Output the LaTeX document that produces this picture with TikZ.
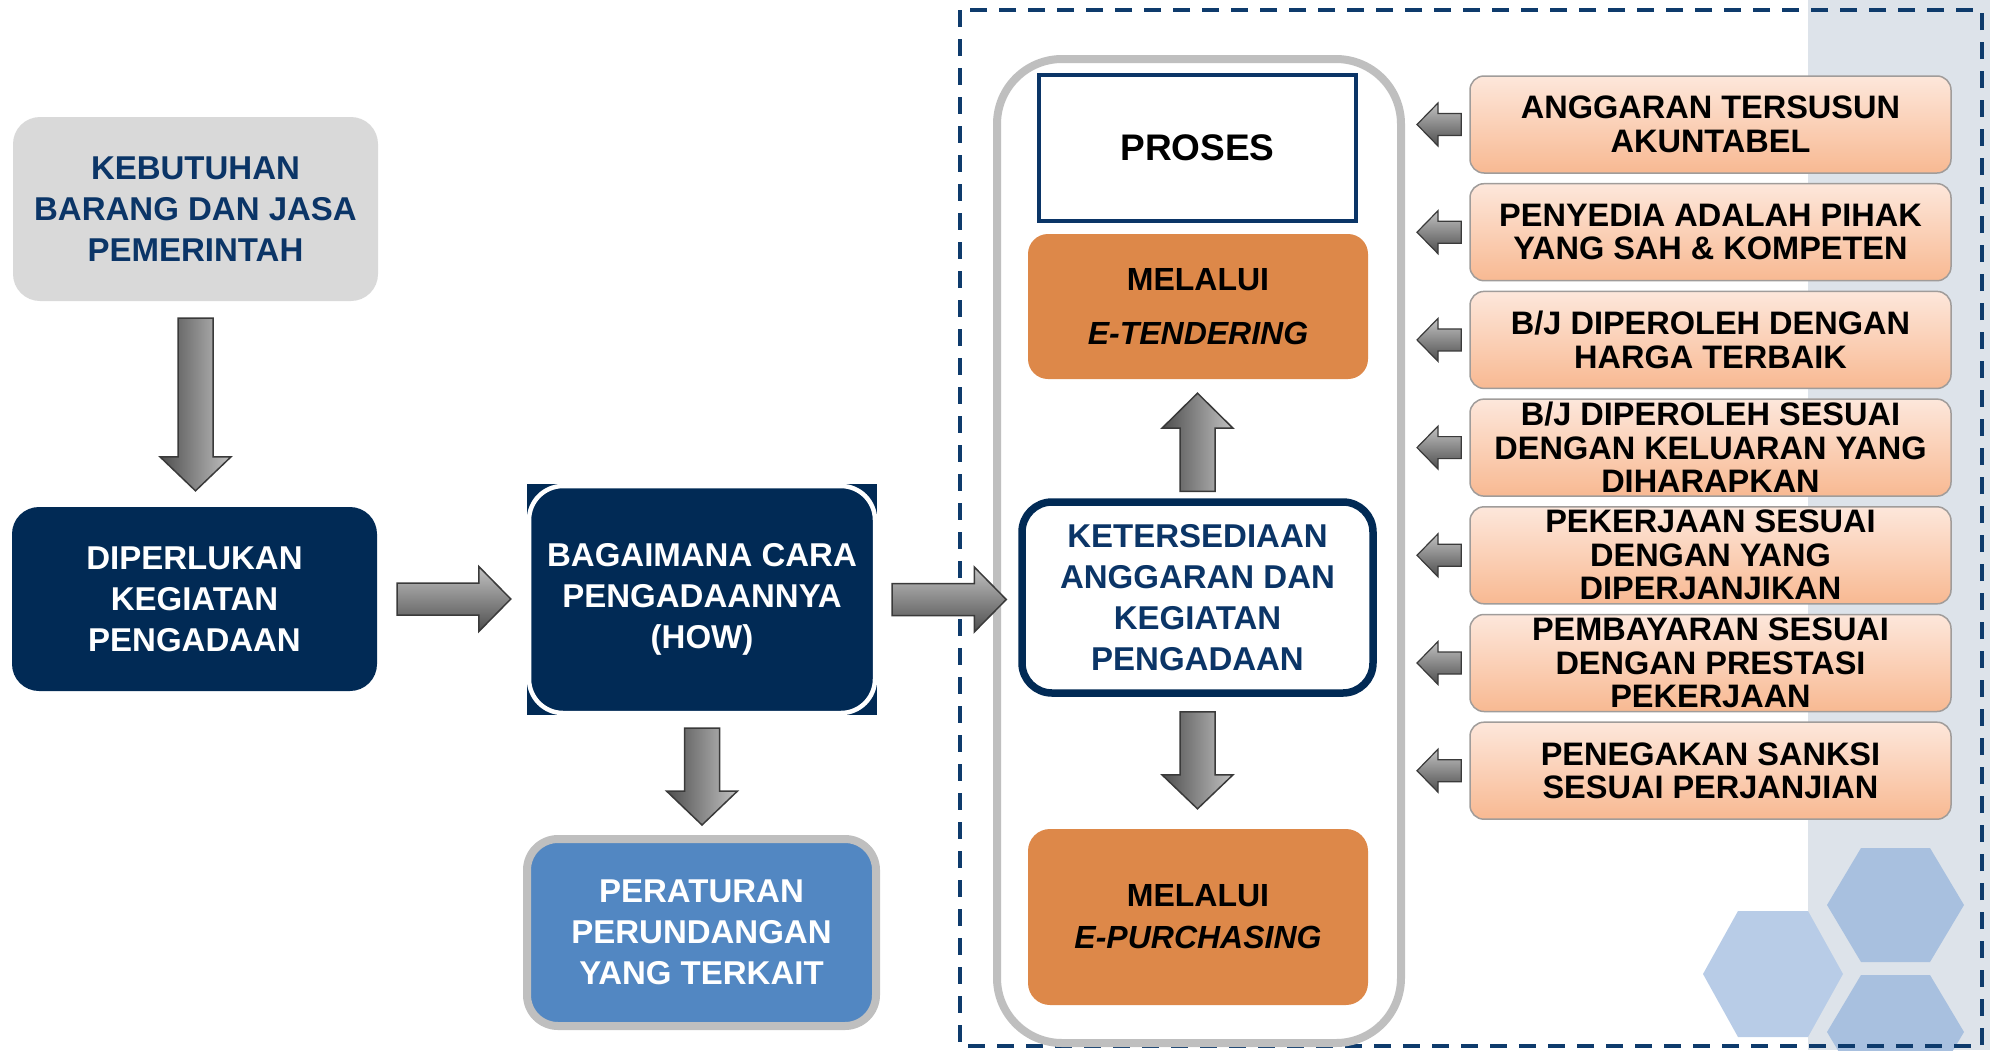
\documentclass[tikz,border=0pt]{standalone}
\usepackage{fontspec}
\setmainfont{Liberation Sans}
\usetikzlibrary{calc}
\definecolor{navytxt}{HTML}{0B3567}
\definecolor{navyfill}{HTML}{012A55}
\definecolor{kebfill}{HTML}{D9D9D9}
\definecolor{perfill}{HTML}{5287C2}
\definecolor{lgray}{HTML}{BFBFBF}
\definecolor{orangef}{HTML}{DD8849}
\definecolor{pinktop}{HTML}{FDE7DB}
\definecolor{pinkbot}{HTML}{F8B992}
\definecolor{pinkedge}{HTML}{A09C9A}
\definecolor{frameblue}{HTML}{0E3B6C}
\definecolor{arrdark}{HTML}{4E4E4E}
\definecolor{arrlight}{HTML}{C2C2C2}
\definecolor{arredge}{HTML}{3A3A3A}
\definecolor{colbg}{HTML}{DDE3EA}
\definecolor{hexa}{HTML}{A8C0DF}
\definecolor{hexb}{HTML}{B8CCE7}

\newcommand\arrD[4]{\path[barrow,vshade] let \p1=(#1), \p2=(#2) in
  (\x1-17.5pt,\y1-#3pt) -- (\x1+17.5pt,\y1-#3pt) -- (\x1+17.5pt,\y2+#4pt+34pt) -- (\x1+35.5pt,\y2+#4pt+34pt)
  -- (\x1,\y2+#4pt) -- (\x1-35.5pt,\y2+#4pt+34pt) -- (\x1-17.5pt,\y2+#4pt+34pt) -- cycle;}
\newcommand\arrU[4]{\path[barrow,vshade] let \p1=(#1), \p2=(#2) in
  (\x1-17.5pt,\y1+#3pt) -- (\x1+17.5pt,\y1+#3pt) -- (\x1+17.5pt,\y2-#4pt-35pt) -- (\x1+35.5pt,\y2-#4pt-35pt)
  -- (\x1,\y2-#4pt) -- (\x1-35.5pt,\y2-#4pt-35pt) -- (\x1-17.5pt,\y2-#4pt-35pt) -- cycle;}
\newcommand\arrR[4]{\path[barrow,hshade] let \p1=(#1), \p2=(#2) in
  (\x1+#3pt,\y1+16pt) -- (\x2-#4pt-32pt,\y1+16pt) -- (\x2-#4pt-32pt,\y1+32.5pt) -- (\x2-#4pt,\y1)
  -- (\x2-#4pt-32pt,\y1-32.5pt) -- (\x2-#4pt-32pt,\y1-16pt) -- (\x1+#3pt,\y1-16pt) -- cycle;}
\newcommand\arrL[2]{\path[barrow,hshade,line width=1.2pt] let \p1=(#1), \p2=(#2) in
  (\x1-8pt,\y1+11pt) -- (\x2+33pt,\y1+11pt) -- (\x2+33pt,\y1+21.5pt) -- (\x2+12pt,\y1)
  -- (\x2+33pt,\y1-21.5pt) -- (\x2+33pt,\y1-11pt) -- (\x1-8pt,\y1-11pt) -- cycle;}

\begin{document}
\begin{tikzpicture}[x=1pt,y=-1pt,
  txt/.style={align=center, inner sep=0pt, font=\bfseries\fontsize{33}{41}\selectfont},
  roundbox/.style={txt, rectangle, rounded corners=#1},
  pinkbox/.style={rectangle, rounded corners=14pt, draw=pinkedge, line width=1.5pt,
    top color=pinktop, bottom color=pinkbot, minimum width=481pt, minimum height=97pt,
    align=center, inner sep=0pt, text=black, font=\bfseries\fontsize{32.5}{33.5}\selectfont},
  barrow/.style={draw=arredge, line width=1.5pt, line join=miter},
  vshade/.style={left color=arrdark, right color=arrlight},
  hshade/.style={top color=arrlight, bottom color=arrdark},
  frame/.style={draw=frameblue, line width=4pt, dash pattern=on 17pt off 12pt}
]
\useasboundingbox (0,0) rectangle (1990,1050);

% background column and hexagons
\fill[colbg] (1808,0) rectangle (1990,1050);
\begin{scope}
\clip (0,0) rectangle (1990,1050);
\fill[hexa] (1827,905) -- (1861,848) -- (1930,848) -- (1964,905) -- (1930,962) -- (1861,962) -- cycle;
\fill[hexa] (1827,1032) -- (1861,975) -- (1930,975) -- (1964,1032) -- (1930,1089) -- (1861,1089) -- cycle;
\fill[hexb] (1703,974) -- (1738,911) -- (1808,911) -- (1843,974) -- (1808,1037) -- (1738,1037) -- cycle;
\end{scope}

% dashed frame
\draw[frame] (960,10) rectangle (1982,1046);

% left column
\node[roundbox=27pt, fill=kebfill, text=navytxt, minimum width=365pt, minimum height=184pt]
  (keb) at (195.5,209) {KEBUTUHAN\\BARANG DAN JASA\\PEMERINTAH};
\node[roundbox=27pt, fill=navyfill, text=white, minimum width=365pt, minimum height=184pt]
  (dip) at (194.5,599) {DIPERLUKAN\\KEGIATAN\\PENGADAAN};
\node[txt, rectangle, fill=navyfill, text=white, minimum width=350pt, minimum height=231pt]
  (bag) at (702,599.5) {BAGAIMANA CARA\\PENGADAANNYA\\(HOW)};
\draw[white, line width=4.5pt, rounded corners=34pt]
  ([shift={(2.2pt,-2.2pt)}]bag.north west) rectangle ([shift={(-2.2pt,2.2pt)}]bag.south east);
\node[roundbox=31pt, fill=perfill, draw=lgray, line width=8pt, text=white, minimum width=349pt, minimum height=187pt]
  (per) at (701.5,932.5) {PERATURAN\\PERUNDANGAN\\YANG TERKAIT};

% process container
\node[rectangle, rounded corners=65pt, draw=lgray, line width=8pt, fill=white,
  minimum width=404pt, minimum height=984pt] (proc) at (1199,551) {};
\node[txt, rectangle, draw=navytxt, line width=4pt, fill=white, text=black,
  minimum width=317pt, minimum height=146pt, font=\bfseries\fontsize{37}{44}\selectfont]
  (proses) at (1197.5,148) {PROSES};
\node[roundbox=20pt, fill=orangef, text=black, minimum width=340pt, minimum height=145pt, font=\bfseries\fontsize{32}{41}\selectfont]
  (etend) at (1198,306.5) {MELALUI\\[13pt]\textit{E-TENDERING}};
\node[roundbox=30pt, draw=navyfill, line width=7.5pt, fill=white, text=navytxt,
  minimum width=351pt, minimum height=191pt, font=\bfseries\fontsize{33}{41}\selectfont]
  (ket) at (1197.5,597.5) {KETERSEDIAAN\\ANGGARAN DAN\\KEGIATAN\\PENGADAAN};
\node[roundbox=22pt, fill=orangef, text=black, minimum width=340pt, minimum height=176pt, font=\bfseries\fontsize{32}{42}\selectfont]
  (epurch) at (1198,917) {MELALUI\\\textit{E-PURCHASING}};

% criteria boxes
\node[pinkbox] (p1) at (1710.5,124.5) {ANGGARAN TERSUSUN\\AKUNTABEL};
\node[pinkbox] (p2) at (1710.5,232.2) {PENYEDIA ADALAH PIHAK\\YANG SAH \& KOMPETEN};
\node[pinkbox] (p3) at (1710.5,339.9) {B/J DIPEROLEH DENGAN\\HARGA TERBAIK};
\node[pinkbox] (p4) at (1710.5,447.6) {B/J DIPEROLEH SESUAI\\DENGAN KELUARAN YANG\\DIHARAPKAN};
\node[pinkbox] (p5) at (1710.5,555.3) {PEKERJAAN SESUAI\\DENGAN YANG\\DIPERJANJIKAN};
\node[pinkbox] (p6) at (1710.5,663) {PEMBAYARAN SESUAI\\DENGAN PRESTASI\\PEKERJAAN};
\node[pinkbox] (p7) at (1710.5,770.7) {PENEGAKAN SANKSI\\SESUAI PERJANJIAN};

% block arrows
\arrD{keb.south}{dip.north}{17}{16}
\arrR{dip.east}{bag.west}{20}{16}
\arrR{bag.east}{ket.west}{15}{12}
\arrD{bag.south}{per.north}{13}{10}
\arrU{ket.north}{etend.south}{7}{14}
\arrD{ket.south}{epurch.north}{15}{20}
\arrL{p1.west}{proc.east}
\arrL{p2.west}{proc.east}
\arrL{p3.west}{proc.east}
\arrL{p4.west}{proc.east}
\arrL{p5.west}{proc.east}
\arrL{p6.west}{proc.east}
\arrL{p7.west}{proc.east}
\end{tikzpicture}
\end{document}
